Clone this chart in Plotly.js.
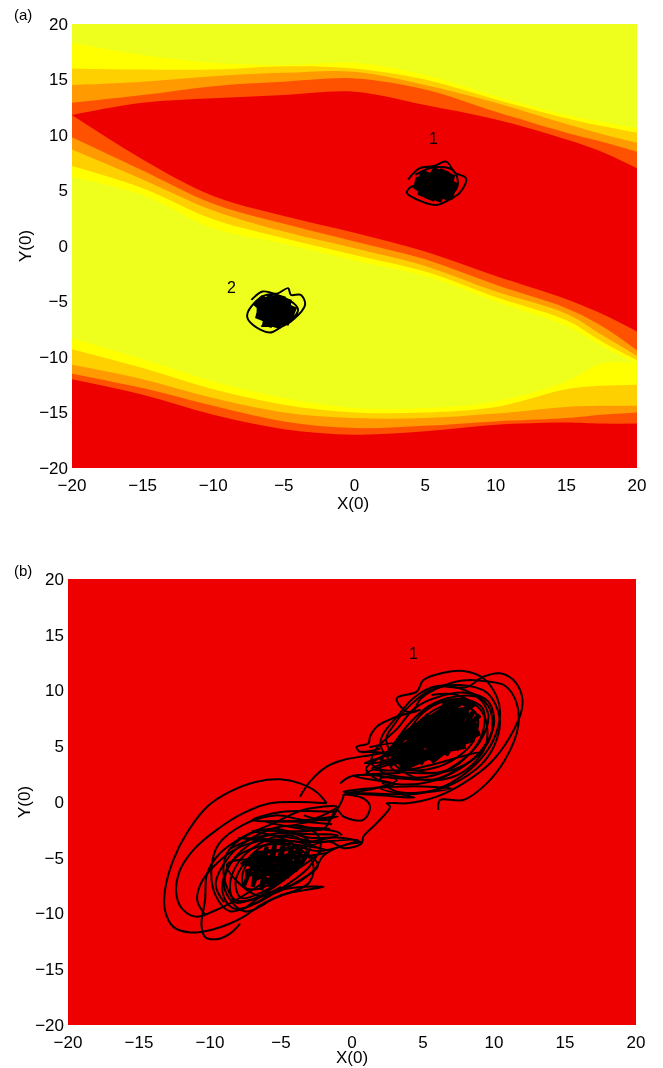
<!DOCTYPE html>
<html><head><meta charset="utf-8">
<script src="https://cdn.plot.ly/plotly-3.0.1.min.js"></script>
<style>html,body{margin:0;padding:0;background:#fff}#chart{filter:blur(0.45px)}</style></head>
<body><div id="chart" style="width:663px;height:1068px"></div>
<script>
const tickValues=[-20,-15,-10,-5,0,5,10,15,20];
const bandX=[-20,-15,-10,-5,0,5,10,15,17.5,20];
const bandColors=['#FFFF00','#FFD000','#FF9A00','#FF5200','#EE0000'];
const upperTop=[
 [18.3,17.2,16.5,16.3,16.5,15.4,13.5,11.8,11.2,10.6],
 [16,15.9,15.9,16.2,16,15,13.2,11.5,10.8,10.2],
 [14.5,14.8,15.3,15.6,15.7,14.5,12.9,11,10.1,9.3],
 [12.9,13.6,14.4,14.8,15.1,14.1,12.1,10.2,9.4,8.5],
 [11.8,12.9,13.3,13.6,13.9,12.7,11.4,9.6,8.5,7]];
const upperBottom=[
 [6.2,4.6,1.6,0.2,-1.3,-2.7,-5,-7.2,-9,-10.6],
 [7.2,5.2,2.4,0.7,-0.8,-2.3,-4.6,-6.7,-8.6,-10.3],
 [8.7,6,3.2,1.3,-0.2,-1.8,-4.1,-6.1,-8,-9.9],
 [9.8,6.8,3.8,2,0.4,-1.2,-3.5,-5.6,-7.2,-9.4],
 [11.8,7.8,4.5,2.7,1.2,-0.5,-2.7,-4.8,-6.1,-7.7]];
const lowerTop=[
 [-8.3,-10.2,-12.2,-13.7,-14.6,-14.6,-14,-12.2,-10.6,-10.6],
 [-9.3,-11,-12.9,-14.3,-15,-15,-14.5,-12.9,-12.6,-12.5],
 [-10.7,-12,-13.7,-15,-15.5,-15.5,-15.1,-14.5,-14.4,-14.4],
 [-11.5,-12.8,-14.4,-15.8,-16.4,-16.2,-15.8,-15.5,-15.2,-15],
 [-12,-13.4,-15.2,-16.5,-17,-16.7,-16.1,-15.9,-16,-16]];
const lowerFloor=[-20,-20,-20,-20,-20,-20,-20,-20,-20,-20];

const a1Outer=[[3.8,6],[4.6,7],[5.6,7.2],[6.5,7.6],[7.1,6.6],[7.9,6.1],[7.46,4.8],[6.6,4.1],[5.8,3.7],[4.4,4.2],[3.7,4.8],[4.15,5.4],[5,4.6],[6.5,4.4],[7.3,5.4],[7,6.8],[5.6,7.1],[4.3,6.4]];
const a1Core=[[4.4,5],[5.2,6.6],[4.8,4.5],[5.9,6.9],[5.3,4.2],[6.4,6.8],[5.8,4.1],[6.8,6.5],[6.3,4.3],[7,5.8],[6.7,4.7],[4.3,5.8],[6.9,5.4],[4.6,6.3],[5.6,5.5]];
const a2Outer=[[-7.3,-4.85],[-6.5,-4.1],[-5.5,-4.3],[-4.7,-3.8],[-4.5,-4.4],[-3.8,-4.4],[-3.5,-5.3],[-4.35,-6.65],[-5.2,-7.3],[-6,-7.8],[-7.2,-7.1],[-7.6,-6.35],[-7.3,-5.45],[-6.2,-4.4],[-4.6,-4.9],[-4,-5.8],[-5,-7],[-6.6,-7.2]];
const a2Core=[[-6.9,-5.6],[-6.3,-4.7],[-6.7,-6.6],[-5.8,-4.5],[-6.2,-7.2],[-5.2,-4.5],[-5.6,-7.3],[-4.8,-4.8],[-5,-7],[-4.4,-5.4],[-4.7,-6.4],[-6.9,-6],[-4.5,-5.8],[-6.8,-5],[-5.6,-5.8]];

const bLoopA=[[-1.78,-0.12],[-2.5,0.9],[-3.66,1.67],[-5.07,2.03],[-6.71,1.82],[-8.59,0.93],[-10.2,-0.42],[-11.64,-2.8],[-12.58,-5.2],[-13.17,-7.9],[-13.17,-9.7],[-12.58,-11.2],[-11.4,-11.7],[-10,-11.5],[-8.59,-10.9],[-7.65,-10.3],[-6.24,-9.1],[-4.6,-8.2],[-2,-7.6],[-4.2,-7.7],[-6,-8.2],[-7.6,-9.6]];
const bLoopB=[[-1.78,-0.12],[-3.89,0],[-5.77,-0.12],[-7.65,-1],[-9.53,-2.5],[-11.17,-4.3],[-12.2,-6.4],[-12.34,-8.5],[-11.87,-9.7],[-10.94,-10.3],[-9.76,-9.8],[-8.59,-9.1],[-7.4,-8.2],[-6,-7.1],[-4.4,-6.4],[-2.9,-5.2],[-2.2,-4.3],[-3.8,-3.6],[-6,-3.4],[-8,-4.1],[-9.6,-5.6],[-10.6,-7.2],[-10.9,-8.8],[-10.3,-10.2]];
const bLoopC=[[-7.88,-10.9],[-8.59,-11.8],[-9.53,-12.3],[-10.35,-12.1],[-10.6,-11],[-10.35,-8.8],[-10.2,-6.4],[-9.3,-4.6],[-7.65,-3.1],[-5.5,-1.9],[-3.4,-0.7],[-1.07,-0.42],[-3,-1.6],[-5.4,-1.2],[-7.6,-2],[-9.4,-3.8],[-9.9,-6],[-9.6,-8.4],[-8.6,-9.8],[-7,-9.2],[-5.4,-8],[-3.8,-7.2],[-2.6,-6],[-2,-4.8],[-0.4,-3.8],[0.6,-3.6],[-0.8,-3.2],[-3,-3.2],[-5.4,-2.4],[-7.4,-3],[-8.8,-4.6],[-9,-6.8],[-8.2,-8.8],[-6.6,-8.6],[-5,-7.6]];
const bBridge=[[-3.66,0.48],[-2.96,1.82],[-1.78,3.17],[-0.61,3.77],[1.27,4.2],[3,4.6]];
const bBridgeB=[[-3.4,-1.2],[-1.6,-1.6],[-1.07,-0.72],[-0.61,0.48],[-0.6,0.63],[0.8,0.33],[1.27,-0.42],[0.8,-1.6],[-0.61,-1.3],[-1.07,-0.72],[-2,-2.4],[-3.6,-2.2],[-1,-2.7],[-0.7,-3]];
const bBridgeC=[[-4,-4.4],[-1.55,-3.56],[-0.61,-4.15],[0.68,-3.7],[0.8,-3.1],[1.74,-1.9],[2.68,-0.42],[2.45,-0.12],[3.85,-0.12],[5.97,0.48],[7.84,1.67],[9.72,3.47],[11.13,5.86],[11.95,8.25],[11.95,9.6],[11.37,10.94],[10.43,11.54],[9.25,11.24],[8.08,10.3],[6.4,10.4]];
const bTopLoop=[[-0.84,1.67],[-0.14,2.27],[1.27,2.42],[3.15,1.97],[1.6,1.2],[-0.4,0.78],[0.8,0.78],[4.8,0.78],[6.9,1.67],[8.78,3.47],[9.96,5.56],[10.43,7.95],[10.19,9.45],[9.25,11.1],[7.84,11.75],[6.44,11.6],[5.03,10.94],[4.56,9.9],[3.15,9.3],[3.85,8.1],[4.79,8.25],[3.15,7.65],[1.74,6.76],[1.27,5.86],[1.15,5.26],[0.33,4.96],[0.57,4.5],[1.98,4.8]];
const bRightLoop=[[6.08,-0.72],[6.2,0.18],[7.84,0.18],[9.49,1.67],[10.9,4.07],[11.7,6.76],[11.6,8.85],[10.8,10.4],[9.6,10.8],[7.8,10.9],[6,10.2],[4.8,9.2],[4.4,8.2]];
const bUpperMid=[[1.2,4.9],[3,5.2],[2,3.8],[5,4.4],[1.4,3],[4,2.9],[9,4.4],[6,2.1],[2,2.1],[3,1],[6,1.1],[8.8,3],[10,5],[10.4,7.5],[9.5,9.8],[7.5,10.5],[5.5,10],[4.2,8.8],[3,7],[2.4,5.6],[3.5,3.4],[6,2.6],[8.5,3.8],[9.8,6],[9.6,8.6],[8,10],[6,10.4],[4.4,9.4],[3.4,8],[2,5.2],[4.4,2.2],[7.4,2.4],[9.4,5],[9.2,8],[7.4,9.6],[5.6,9.6]];
const bUpperOrbit=[[2.4,2.8],[1.4,3.4],[1.6,4.6],[3.2,6.6],[4.4,8.4],[6,9.4],[8,9.8],[9.6,9],[10,7],[9.2,4.8],[7.6,3],[5.4,1.8],[3.2,1.6],[1.8,2],[1,3],[2.4,4.4],[4,7],[5.4,8.6],[7,9.4],[8.8,9.4],[9.6,7.8],[9,5.4],[7.6,3.6],[5.8,2.4],[3.8,2.2],[2,2.8],[2.2,4],[3.6,5.8],[5,8],[6.4,9],[8,9.2],[9.2,8.4],[9.2,6.2],[8.2,4.2],[6.6,2.8],[4.4,2.6],[2.8,3],[3,4.6],[4.4,6.8],[6,8.4],[7.6,8.8],[8.8,7.8],[8.6,5.6],[7.4,4],[5.6,3],[3.8,3],[3.4,4.4],[4.8,6.6],[6.4,8],[8,8.2],[8.4,6.6],[7.4,4.6]];
const bUpperStrands=[[0.6,4.5],[2.6,4.3],[0.9,3.5],[3,3.6],[1,2.6],[3.4,2.6],[0.2,2.3],[3,1.6],[-0.6,0.9],[2,0.6],[4.4,0.4],[2,1.2],[4,1.4],[7,1.2],[4,0.7]];
const bLowerMid=[[-1.4,-2],[-3.4,-1.8],[-6,-1.8],[-3,-2.6],[-7,-2.6],[-2.6,-3.6],[-8,-3.2],[-1.6,-4.4],[-4,-5],[-8.8,-5.6],[-6.6,-8.4],[-3.4,-6.8],[-2.4,-5.6],[-5,-3.8],[-8.2,-5],[-9,-7.6],[-7.6,-9.8],[-5.4,-8.6],[-3,-7.2],[-2.8,-5.4],[-5.6,-3],[-8.6,-4.2]];
const bLowerOrbit=[[-9,-9],[-9.6,-7.4],[-8.6,-4.8],[-7,-3.2],[-5,-2.2],[-3,-2.4],[-2.2,-3.6],[-3,-5.8],[-4.8,-7.6],[-6.6,-9],[-8.2,-9.6],[-9,-8.6],[-9,-6.6],[-7.8,-4.4],[-6,-3],[-4.2,-2.8],[-3,-3.6],[-3.4,-5.4],[-5,-7.2],[-6.8,-8.6],[-8.2,-9],[-8.6,-7.6],[-8,-5.4],[-6.6,-3.8],[-5,-3],[-3.6,-3.4],[-3.2,-4.8],[-4.6,-6.6],[-6.2,-8],[-7.8,-8.6],[-8.2,-7.2],[-7.4,-5.2],[-6,-3.8],[-4.4,-3.6],[-3.8,-4.8],[-5,-6.6],[-6.6,-7.8],[-7.6,-7.6],[-7.6,-6],[-6.2,-4.4]];
const bLowerStrands=[[-1.2,-0.9],[-5,-0.9],[-7,-1.6],[-4,-1.7],[-1,-1.3],[-4.4,-2.2],[-1.6,-2.4],[-5,-2.8],[-1,-3],[-3,-3.6],[0.4,-3.4],[-2.4,-4.4],[-4,-3.8]];
const bUpperCore=[[2.6,3.2],[5,6.5],[3.4,3.2],[6,7.2],[4,3.4],[6.8,7.8],[4.8,3.4],[7.2,8.2],[5.4,3.8],[7.8,8.4],[6,4],[8.2,8.6],[6.6,4.2],[8.6,8.2],[7,4.8],[8.8,7.6],[7.4,5.2],[8.8,6.6],[2.4,4.2],[5.4,7.8],[2.8,4.8],[4.6,7],[3.4,5.8],[8.6,5.6],[3,3.8],[8,5],[5.4,5],[7.8,7],[4.2,6.4],[8.2,7.8],[6.4,8.8],[7.4,9],[8.6,8.8],[2.8,3.8],[8.8,7],[3.4,3],[9,6.2],[3,4.6],[8.4,8.6],[3.8,5.8],[7.6,8.8],[4.6,6.8],[7,8.8],[2.6,3.4],[7.4,5.2],[4,3.2],[8.6,6.6],[5.6,3.6],[9,7.8]];
const bLowerCore=[[-7.6,-7.5],[-6.6,-4.4],[-7,-7.6],[-6,-4],[-6.4,-7.9],[-5.4,-3.6],[-5.8,-7.6],[-4.8,-3.6],[-5.2,-7.2],[-4.2,-4],[-4.6,-6.8],[-3.6,-4.4],[-4,-6.2],[-3.2,-4.8],[-7.8,-5.6],[-6.8,-4.8],[-4.2,-5.2],[-7.4,-6.6],[-7.4,-6.2],[-3.8,-4.4],[-7,-7],[-3.6,-5.2],[-6.4,-7.4],[-3.8,-5.8],[-5.6,-7.4],[-7.4,-5.4],[-6.8,-4.6],[-4.4,-4.2]];

const traces=[];
function bandPair(low,up,color,xa,ya){
 traces.push({x:bandX,y:low,mode:'lines',line:{width:0,shape:'spline',color:color},xaxis:xa,yaxis:ya,hoverinfo:'skip',showlegend:false});
 traces.push({x:bandX,y:up,mode:'lines',fill:'tonexty',fillcolor:color,line:{width:0,shape:'spline',color:color},xaxis:xa,yaxis:ya,hoverinfo:'skip',showlegend:false});
}
bandColors.forEach((c,i)=>bandPair(upperBottom[i],upperTop[i],c,'x','y'));
bandColors.forEach((c,i)=>bandPair(lowerFloor,lowerTop[i],c,'x','y'));
function path(pts,w,xa,ya,shape){
 traces.push({x:pts.map(p=>p[0]),y:pts.map(p=>p[1]),mode:'lines',line:{color:'#000',width:w,shape:shape||'spline'},xaxis:xa,yaxis:ya,hoverinfo:'skip',showlegend:false});
}
path(a1Outer,2,'x','y');path(a1Core,10,'x','y','linear');
path(a2Outer,2,'x','y');path(a2Core,10,'x','y','linear');
[bLoopA,bLoopB,bLoopC,bBridge,bBridgeB,bBridgeC,bTopLoop,bRightLoop,bUpperMid,bUpperOrbit,bUpperStrands,bLowerMid,bLowerOrbit,bLowerStrands].forEach(p=>path(p,2,'x2','y2'));
path(bUpperCore,5,'x2','y2','linear');
path(bLowerCore,4,'x2','y2','linear');

const font={family:'"Liberation Sans",Arial,sans-serif',size:17,color:'#000'};
function ax(dom,title,standoff,anchor,labelOff){return {domain:dom,range:[-20,20],tickmode:'array',tickvals:tickValues,ticks:'',showgrid:false,zeroline:false,showline:false,tickfont:font,ticklabelstandoff:labelOff,anchor:anchor,automargin:false,title:{text:title,font:font,standoff:standoff},fixedrange:true};}
const H=1068,W=663;
const layout={width:W,height:H,margin:{l:0,r:0,t:0,b:0},paper_bgcolor:'#fff',plot_bgcolor:'#EEFF1E',showlegend:false,
 xaxis:ax([72/W,637/W],'',0,'y',5),
 yaxis:ax([(H-468)/H,(H-24)/H],'Y(0)',3,'x',3),
 xaxis2:ax([68/W,636/W],'',0,'y2',5),
 yaxis2:ax([(H-1025)/H,(H-579)/H],'Y(0)',0,'x2',3),
 shapes:[{type:'rect',xref:'x2',yref:'y2',x0:-20,x1:20,y0:-20,y1:20,fillcolor:'#EE0000',line:{width:0},layer:'below'}],
 annotations:[
  {text:'(a)',xref:'paper',yref:'paper',x:12/W,y:1-14/H,xanchor:'left',yanchor:'middle',showarrow:false,font:{...font,size:15}},
  {text:'(b)',xref:'paper',yref:'paper',x:12/W,y:1-570/H,xanchor:'left',yanchor:'middle',showarrow:false,font:{...font,size:15}},
  {text:'X(0)',xref:'paper',yref:'paper',x:353/W,y:1-503/H,xanchor:'center',yanchor:'middle',showarrow:false,font:font},
  {text:'X(0)',xref:'paper',yref:'paper',x:352/W,y:1-1057/H,xanchor:'center',yanchor:'middle',showarrow:false,font:font},
  {text:'1',xref:'x',yref:'y',x:5.6,y:9.7,showarrow:false,font:{...font,size:16}},
  {text:'2',xref:'x',yref:'y',x:-8.7,y:-3.7,showarrow:false,font:{...font,size:16}},
  {text:'1',xref:'x2',yref:'y2',x:4.3,y:13.3,showarrow:false,font:{...font,size:16}}
 ]};
Plotly.newPlot('chart',traces,layout,{displayModeBar:false,staticPlot:true});
</script></body></html>
